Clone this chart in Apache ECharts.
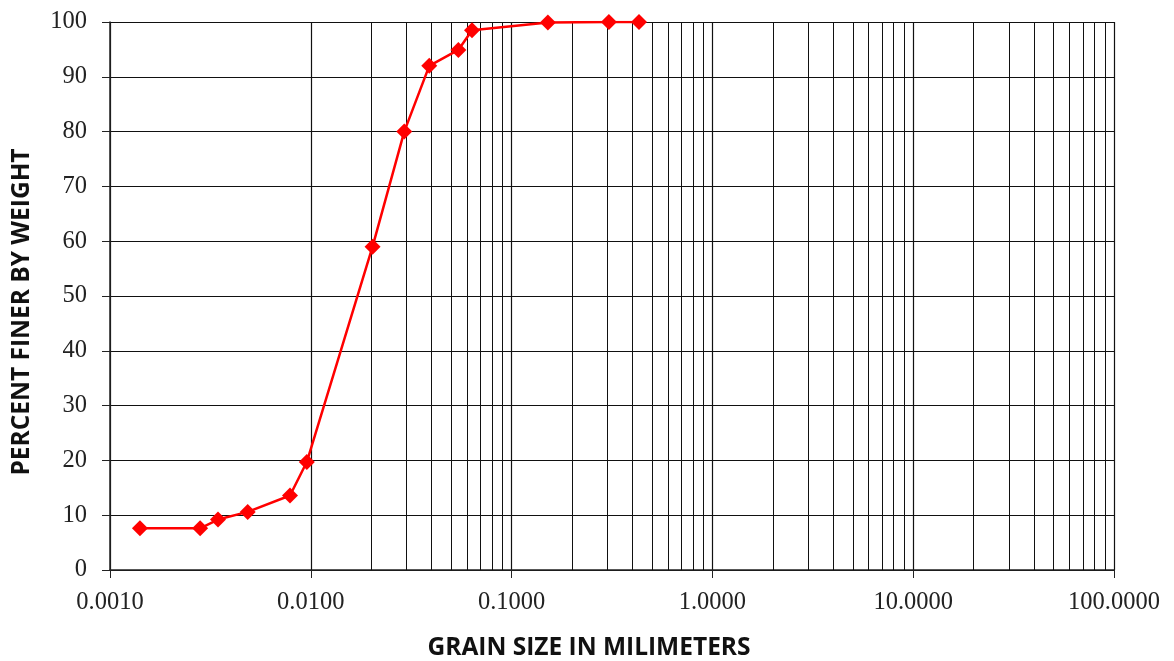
<!DOCTYPE html>
<html>
<head>
<meta charset="utf-8">
<script src="https://cdn.jsdelivr.net/npm/echarts@6/dist/echarts.min.js"></script>
<style>
  html, body { margin: 0; padding: 0; background: #fff; }
  #chart { width: 1174px; height: 661px; }
</style>
</head>
<body>
<div id="chart"></div>
<script>
// grain size (mm) and percent finer
const grainSize = [0.00141, 0.00281, 0.00345, 0.00485, 0.00788, 0.00955, 0.0203,
  0.0292, 0.0389, 0.0543, 0.0635, 0.1516, 0.305, 0.431];
const percentFiner = [7.6, 7.6, 9.2, 10.6, 13.6, 19.7, 59, 80, 92, 94.9, 98.5, 99.9, 100, 100];

// minor log grid lines (2..9 in each decade)
const decades = [0.001, 0.01, 0.1, 1, 10];
const minorSteps = [2, 3, 4, 5, 6, 7, 8, 9];

let minorLines = [];
decades.forEach((d) => {
  minorSteps.forEach((k) => {
    minorLines.push({ xAxis: +(d * k).toPrecision(3) });
  });
});

const chart = echarts.init(document.getElementById("chart"));
const serif = "Liberation Serif";

const option = {
  animation: false,
  grid: { left: 110, right: 60, top: 22, bottom: 91, outerBoundsMode: "none" },
  xAxis: {
    type: "log",
    logBase: 10,
    min: 0.001,
    max: 100,
    name: "GRAIN SIZE IN MILIMETERS",
    nameLocation: "middle",
    nameGap: 66,
    nameTextStyle: {
      fontFamily: "Open Sans", fontWeight: "bold", fontSize: 24.5, color: "#111",
      padding: [0, 46, 0, 0],
    },
    axisLine: { lineStyle: { color: "#222", width: 1.5 } },
    axisTick: { show: true, length: 8, lineStyle: { color: "#222" } },
    axisLabel: {
      fontFamily: serif, fontSize: 24.5, color: "#222", margin: 20,
      formatter: (v) => Number(v).toFixed(4),
    },
    splitLine: { show: true, lineStyle: { color: "#111", width: 1.2 } },
  },
  yAxis: {
    type: "value",
    min: 0,
    max: 100,
    interval: 10,
    name: "PERCENT FINER BY WEIGHT",
    nameLocation: "middle",
    nameGap: 75,
    nameTextStyle: {
      fontFamily: "Open Sans", fontWeight: "bold", fontSize: 24.5, color: "#111",
      padding: [0, 32, 0, 0],
    },
    axisLine: { show: true, lineStyle: { color: "#222", width: 1.5 } },
    axisTick: { show: true, length: 8, lineStyle: { color: "#222" } },
    axisLabel: { fontFamily: serif, fontSize: 24.5, color: "#222", margin: 23 },
    splitLine: { show: true, lineStyle: { color: "#111", width: 1.2 } },
  },
  series: [
    {
      name: "minor grid",
      type: "line",
      data: [],
      z: 1,
      silent: true,
      markLine: {
        silent: true,
        symbol: ["none", "none"],
        label: { show: false },
        lineStyle: { color: "#111", width: 1, type: "solid" },
        data: minorLines,
      },
    },
    {
      name: "percent finer",
      type: "line",
      z: 5,
      data: grainSize.map((g, i) => [g, percentFiner[i]]),
      symbol: "diamond",
      symbolSize: 16,
      lineStyle: { color: "#ff0000", width: 2.5 },
      itemStyle: { color: "#ff0000" },
    },
  ],
};

chart.setOption(option);
</script>
</body>
</html>
